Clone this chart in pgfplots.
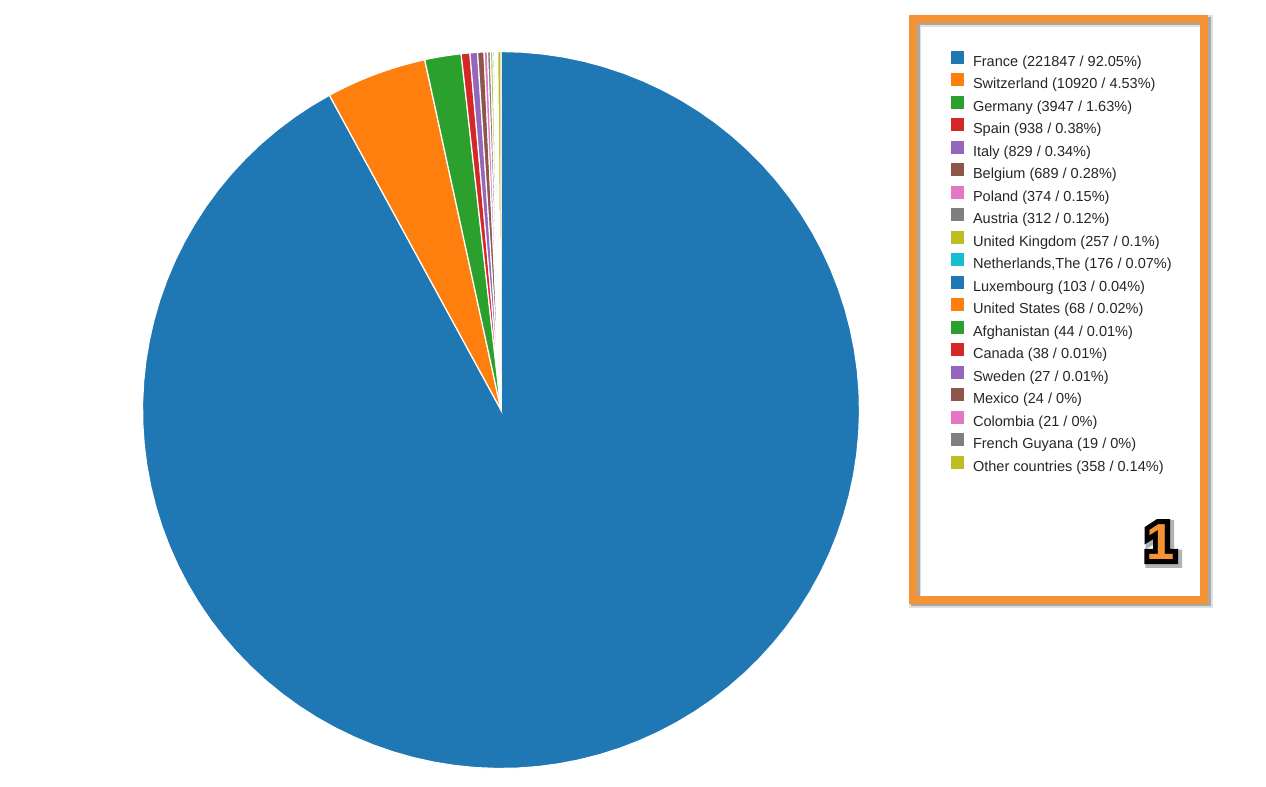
\documentclass[border=0pt]{standalone}
\usepackage{pgfplots}
\pgfplotsset{compat=1.18}
\usepackage{fontspec}
\setmainfont{Liberation Sans}
\newfontfamily\badgeout[FakeBold=20]{Liberation Sans Bold}
\newfontfamily\badgeshadow[FakeBold=26]{Liberation Sans Bold}
\newfontfamily\badgein{Liberation Sans Bold}

\definecolor{c1}{HTML}{1F77B4}\definecolor{c2}{HTML}{FF7F0E}\definecolor{c3}{HTML}{2CA02C}
\definecolor{c4}{HTML}{D62728}\definecolor{c5}{HTML}{9467BD}\definecolor{c6}{HTML}{8C564B}
\definecolor{c7}{HTML}{E377C2}\definecolor{c8}{HTML}{7F7F7F}\definecolor{c9}{HTML}{BCBD22}
\definecolor{c10}{HTML}{17BECF}\definecolor{c11}{HTML}{1F77B4}\definecolor{c12}{HTML}{FF7F0E}
\definecolor{c13}{HTML}{2CA02C}\definecolor{c14}{HTML}{D62728}\definecolor{c15}{HTML}{9467BD}
\definecolor{c16}{HTML}{8C564B}\definecolor{c17}{HTML}{E377C2}\definecolor{c18}{HTML}{7F7F7F}
\definecolor{c19}{HTML}{BCBD22}
\definecolor{frameorange}{RGB}{244,146,52}

% counts per country (pie order, clockwise from 12 o'clock)
\def\countlist{221847,10920,3947,938,829,689,374,312,257,176,103,68,44,38,27,24,21,19,358}

\expandafter\def\csname lab1\endcsname{France (221847 / 92.05\%)}
\expandafter\def\csname lab2\endcsname{Switzerland (10920 / 4.53\%)}
\expandafter\def\csname lab3\endcsname{Germany (3947 / 1.63\%)}
\expandafter\def\csname lab4\endcsname{Spain (938 / 0.38\%)}
\expandafter\def\csname lab5\endcsname{Italy (829 / 0.34\%)}
\expandafter\def\csname lab6\endcsname{Belgium (689 / 0.28\%)}
\expandafter\def\csname lab7\endcsname{Poland (374 / 0.15\%)}
\expandafter\def\csname lab8\endcsname{Austria (312 / 0.12\%)}
\expandafter\def\csname lab9\endcsname{United Kingdom (257 / 0.1\%)}
\expandafter\def\csname lab10\endcsname{Netherlands,The (176 / 0.07\%)}
\expandafter\def\csname lab11\endcsname{Luxembourg (103 / 0.04\%)}
\expandafter\def\csname lab12\endcsname{United States (68 / 0.02\%)}
\expandafter\def\csname lab13\endcsname{Afghanistan (44 / 0.01\%)}
\expandafter\def\csname lab14\endcsname{Canada (38 / 0.01\%)}
\expandafter\def\csname lab15\endcsname{Sweden (27 / 0.01\%)}
\expandafter\def\csname lab16\endcsname{Mexico (24 / 0\%)}
\expandafter\def\csname lab17\endcsname{Colombia (21 / 0\%)}
\expandafter\def\csname lab18\endcsname{French Guyana (19 / 0\%)}
\expandafter\def\csname lab19\endcsname{Other countries (358 / 0.14\%)}

\gdef\total{0}
\foreach \c in \countlist {\xdef\total{\fpeval{\total+\c}}}
\gdef\cum{0}
\foreach \c [count=\i] in \countlist {%
  \xdef\tmpA{\fpeval{90-360*\cum/\total}}%
  \xdef\cum{\fpeval{\cum+\c}}%
  \xdef\tmpB{\fpeval{90-360*\cum/\total}}%
  \expandafter\xdef\csname angA\i\endcsname{\tmpA}%
  \expandafter\xdef\csname angB\i\endcsname{\tmpB}%
}

\begin{document}
\begin{tikzpicture}
% legend frame
\fill[white] (684.75pt,-13.875pt) rectangle (903pt,-449.625pt);
\draw[black, opacity=0.12, line width=9pt] (686.6pt,-15.75pt) rectangle (904.9pt,-451.5pt);
\draw[black, opacity=0.25, line width=6.5pt] (686.6pt,-15.75pt) rectangle (904.9pt,-451.5pt);
\draw[frameorange, line width=6pt] (684.75pt,-13.875pt) rectangle (903pt,-449.625pt);
\node[text=black!30, anchor=base west, inner sep=0pt] at (861.3pt,-421pt) {\fontsize{38}{38}\badgeshadow 1};
\node[text=black, anchor=base west, inner sep=0pt] at (859.5pt,-419.25pt) {\fontsize{38}{38}\badgeout 1};
\node[text=frameorange, anchor=base west, inner sep=0pt] at (859.5pt,-419.25pt) {\fontsize{38}{38}\badgein 1};

\begin{axis}[
  at={(375.75pt,-307.5pt)}, anchor=center,
  width=537.75pt, height=537.75pt, scale only axis,
  xmin=-1, xmax=1, ymin=-1, ymax=1,
  hide axis, clip=false,
  legend image code/.code={\fill[#1, draw=none] (0pt,-1.2pt) rectangle (9.75pt,8.55pt);},
  legend style={at={(1.12762,1.0014)}, anchor=north west, draw=none, fill=none,
    inner sep=0pt, outer sep=0pt, row sep=3.63pt, column sep=6.75pt,
    font=\fontsize{10.9}{12}\selectfont, text=black!85,
    nodes={inner sep=0pt, outer sep=0pt}},
  legend cell align=left,
]
\pgfplotsinvokeforeach{1,...,19}{%
  \edef\doplot{\noexpand\addplot[fill=c#1, draw=white, line width=0.9pt,
    domain=\csname angB#1\endcsname:\csname angA#1\endcsname, samples=100,
    variable=\noexpand\t] ({cos(\noexpand\t)},{sin(\noexpand\t)}) -- (0,0) -- cycle;}%
  \doplot
  \addlegendentry{\csname lab#1\endcsname}
}
\end{axis}
\pgfresetboundingbox
\path[use as bounding box] (0,0) rectangle (949.5pt,-589.5pt);
\end{tikzpicture}
\end{document}
